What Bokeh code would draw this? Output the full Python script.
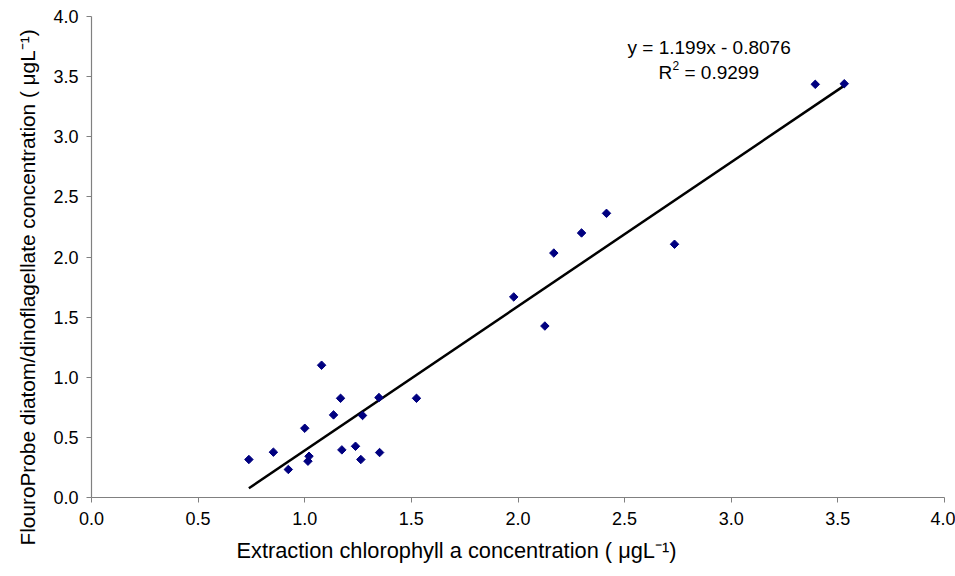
import math
from bokeh.plotting import figure
from bokeh.models import Range1d, FixedTicker, PrintfTickFormatter, Label, Title
from bokeh.embed import file_html
from bokeh.resources import INLINE

# ---- data ----
extraction_chl = [0.738, 0.853, 0.923, 1.000, 1.020, 1.015, 1.079, 1.168,
                  1.135, 1.174, 1.238, 1.271, 1.263, 1.348, 1.351, 1.524,
                  1.980, 2.126, 2.168, 2.298, 2.415, 2.734, 3.394, 3.530]
probe_diatom = [0.316, 0.377, 0.233, 0.576, 0.343, 0.302, 1.100, 0.825,
                0.687, 0.396, 0.426, 0.682, 0.316, 0.831, 0.374, 0.825,
                1.668, 1.426, 2.033, 2.200, 2.363, 2.106, 3.436, 3.441]
fit_slope = 1.199
fit_intercept = -0.8076
r_squared = 0.9299
tick_values = [0.0, 0.5, 1.0, 1.5, 2.0, 2.5, 3.0, 3.5, 4.0]
x_title = "Extraction chlorophyll a concentration ( \u03bcgL\u207b\u00b9)"
y_title = "FlouroProbe diatom/dinoflagellate concentration ( \u03bcgL\u207b\u00b9)"

# ---- layout ----
FL, FT, FW, FH = 91, 16, 853, 481
XMIN, XMAX, YMIN, YMAX = 0.0, 4.0, 0.0, 4.0
FONT = "Liberation Sans"


def X(px):
    return XMIN + (px - FL) * (XMAX - XMIN) / FW


def Y(py):
    return YMIN + (FT + FH - py) * (YMAX - YMIN) / FH


p = figure(frame_width=FW, frame_height=FH,
           min_border_left=FL, min_border_right=955 - FL - FW,
           min_border_top=FT, min_border_bottom=576 - FT - FH,
           x_range=Range1d(XMIN, XMAX), y_range=Range1d(YMIN, YMAX),
           output_backend="svg", toolbar_location=None,
           background_fill_color="white", border_fill_color="white")
p.outline_line_color = None
p.xgrid.grid_line_color = None
p.ygrid.grid_line_color = None

for ax in (p.xaxis[0], p.yaxis[0]):
    ax.ticker = FixedTicker(ticks=tick_values)
    ax.formatter = PrintfTickFormatter(format="%.1f")
    ax.axis_line_color = "#808080"
    ax.axis_line_width = 1.2
    ax.major_tick_line_color = "#808080"
    ax.major_tick_out = 5
    ax.major_tick_in = 0
    ax.minor_tick_line_color = None
    ax.major_label_text_font = FONT
    ax.major_label_text_font_size = "18px"
    ax.major_label_text_color = "black"
p.xaxis[0].major_label_standoff = 9
p.yaxis[0].major_label_standoff = 8

# axis titles
p.add_layout(Title(text=x_title, align="left", offset=145, standoff=16,
                   text_font=FONT, text_font_size="21.8px",
                   text_font_style="normal", text_color="black"), "below")
p.add_layout(Title(text=y_title, align="left", offset=-48, standoff=23,
                   text_font=FONT, text_font_size="20.8px",
                   text_font_style="normal", text_color="black"), "left")

# trend line
fx = [min(extraction_chl), max(extraction_chl)]
fy = [fit_slope * v + fit_intercept for v in fx]
p.line(fx, fy, line_color="black", line_width=2.5)

# points
p.scatter(extraction_chl, probe_diatom, marker="square", size=6, angle=math.pi / 4,
          fill_color="#000080", line_color="#000080")


def lab(px, py, text, size):
    p.add_layout(Label(x=X(px), y=Y(py), text=text, x_units="data", y_units="data",
                       text_font=FONT, text_font_size=f"{size}px",
                       text_color="black", text_align="left",
                       text_baseline="alphabetic"))


# equation
sign = "-" if fit_intercept < 0 else "+"
lab(627, 47, f"y = {fit_slope:.3f}x {sign} {abs(fit_intercept):.4f}", 19)
lab(658, 72, "R", 19)
lab(672, 65, "2", 12)
lab(684, 72, f"= {r_squared:.4f}", 19)

open("out.html", "w").write(file_html(p, INLINE))
